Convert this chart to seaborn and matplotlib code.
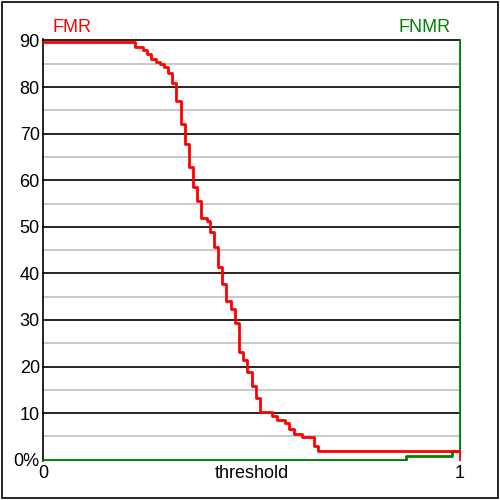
import matplotlib
matplotlib.use("Agg")
import matplotlib.pyplot as plt
import numpy as np
import pandas as pd
import seaborn as sns
from matplotlib.patches import Rectangle

# FMR curve: threshold where each step starts, and value held from there on
fmr_x = [0.0, 0.220, 0.239, 0.249, 0.259, 0.270, 0.281, 0.290, 0.300, 0.309,
         0.318, 0.331, 0.341, 0.351, 0.360, 0.370, 0.379, 0.394, 0.401, 0.410,
         0.419, 0.429, 0.439, 0.451, 0.460, 0.471, 0.480, 0.489, 0.501, 0.511,
         0.521, 0.549, 0.561, 0.581, 0.591, 0.601, 0.621, 0.651, 0.660, 1.0]
fmr_y = [89.7, 88.6, 88.0, 87.2, 86.0, 85.3, 84.9, 84.2, 83.0, 80.9,
         77.0, 72.0, 67.7, 62.8, 58.5, 55.5, 51.9, 51.2, 48.9, 45.7,
         41.4, 37.8, 34.0, 32.3, 29.4, 23.1, 21.4, 18.8, 15.8, 13.3,
         10.2, 9.3, 8.5, 7.9, 6.5, 5.5, 4.9, 2.9, 1.8, 0.0]

# FNMR curve
fnmr_x = [0.0, 0.871, 0.982, 1.0]
fnmr_y = [0.0, 0.75, 1.8, 100.0]

y_major = [0, 10, 20, 30, 40, 50, 60, 70, 80, 90]
y_labels = ["0%", "10", "20", "30", "40", "50", "60", "70", "80", "90"]
y_minor = [5, 15, 25, 35, 45, 55, 65, 75, 85]
x_ticks = [0, 0.5, 1]
x_labels = ["0", "threshold", "1"]

RED = "#ff0000"
GREEN = "#008000"
FS = 13

sns.set_theme(style="white")
plt.rcParams["font.family"] = ["Liberation Sans", "DejaVu Sans"]

df_fmr = pd.DataFrame({"threshold": fmr_x, "rate": fmr_y})
df_fnmr = pd.DataFrame({"threshold": fnmr_x, "rate": fnmr_y})

fig = plt.figure(figsize=(5, 5), dpi=100)
ax = fig.add_axes([0.0841, 0.0778, 0.8387, 0.845])

# grid first so the curves sit on top
for v in y_minor:
    ax.axhline(v, color="#c0c0c0", lw=1.2, zorder=1)
for v in y_major[1:]:
    ax.axhline(v, color="black", lw=1.2, zorder=1)

sns.lineplot(df_fnmr, x="threshold", y="rate", drawstyle="steps-post",
             estimator=None, sort=False, color=GREEN, lw=2, ax=ax, zorder=3)
sns.lineplot(df_fmr, x="threshold", y="rate", drawstyle="steps-post",
             estimator=None, sort=False, color=RED, lw=2, ax=ax, zorder=4)

ax.set_xlim(-0.003, 1.004)
ax.set_ylim(-0.3, 90.4)
ax.set_xticks(x_ticks, x_labels)
ax.set_yticks(y_major, y_labels)
ax.tick_params(axis="both", length=0, labelsize=FS, colors="black")
ax.tick_params(axis="y", pad=2.5)
ax.tick_params(axis="x", pad=2.5)
ax.set_xlabel("")
ax.set_ylabel("")

for s in ["top", "right", "bottom"]:
    ax.spines[s].set_visible(False)
ax.spines["left"].set_position(("data", 0))
ax.spines["left"].set_color("black")
ax.spines["left"].set_linewidth(1.2)
ax.spines["left"].set_zorder(2)

fig.text(0.143, 0.945, "FMR", color=RED, fontsize=FS, ha="center", va="center")
fig.text(0.85, 0.945, "FNMR", color=GREEN, fontsize=FS, ha="center", va="center")

fig.patches.append(Rectangle((0.0034, 0.0034), 0.993, 0.993, transform=fig.transFigure,
                             fill=False, edgecolor="black", lw=1.2))

fig.savefig("out.png", dpi=100, facecolor="white")
